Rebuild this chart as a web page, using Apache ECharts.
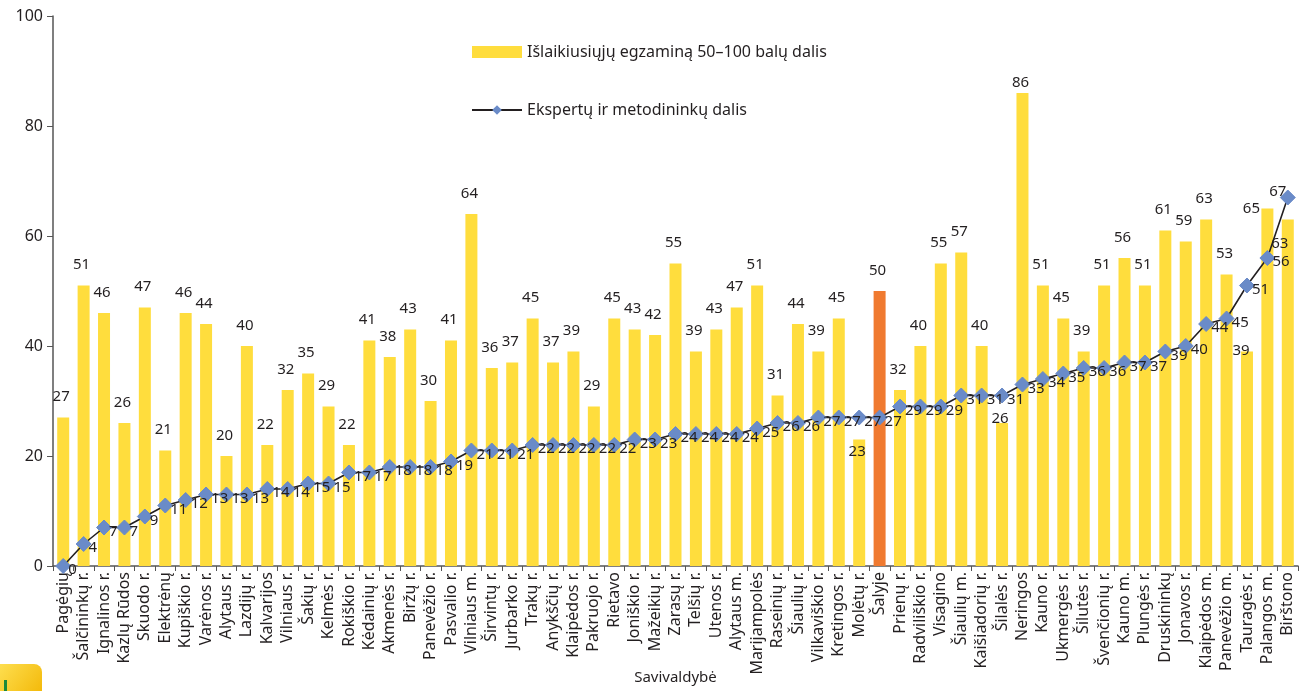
<!DOCTYPE html>
<html>
<head>
<meta charset="utf-8">
<style>
  html, body { margin: 0; padding: 0; background: #fff; }
  #chart { width: 1301px; height: 691px; }
</style>
<script src="https://cdn.jsdelivr.net/npm/echarts@6/dist/echarts.min.js"></script>
</head>
<body>
<div id="chart"></div>
<script>
// Savivaldybės (municipalities), ordered by the experts' share
const categories = [
  'Pagėgių', 'Šalčininkų r.', 'Ignalinos r.', 'Kazlų Rūdos', 'Skuodo r.', 'Elektrėnų',
  'Kupiškio r.', 'Varėnos r.', 'Alytaus r.', 'Lazdijų r.', 'Kalvarijos', 'Vilniaus r.',
  'Šakių r.', 'Kelmės r.', 'Rokiškio r.', 'Kėdainių r.', 'Akmenės r.', 'Biržų r.',
  'Panevėžio r.', 'Pasvalio r.', 'Vilniaus m.', 'Širvintų r.', 'Jurbarko r.', 'Trakų r.',
  'Anykščių r.', 'Klaipėdos r.', 'Pakruojo r.', 'Rietavo', 'Joniškio r.', 'Mažeikių r.',
  'Zarasų r.', 'Telšių r.', 'Utenos r.', 'Alytaus m.', 'Marijampolės', 'Raseinių r.',
  'Šiaulių r.', 'Vilkaviškio r.', 'Kretingos r.', 'Molėtų r.', 'Šalyje', 'Prienų r.',
  'Radviliškio r.', 'Visagino', 'Šiaulių m.', 'Kaišiadorių r.', 'Šilalės r.', 'Neringos',
  'Kauno r.', 'Ukmergės r.', 'Šilutės r.', 'Švenčionių r.', 'Kauno m.', 'Plungės r.',
  'Druskininkų', 'Jonavos r.', 'Klaipėdos m.', 'Panevėžio m.', 'Tauragės r.', 'Palangos m.',
  'Birštono'
];

// Išlaikiusiųjų egzaminą 50–100 balų dalis (%)
const passedShare = [
  27, 51, 46, 26, 47, 21, 46, 44, 20, 40, 22, 32,
  35, 29, 22, 41, 38, 43, 30, 41, 64, 36, 37, 45,
  37, 39, 29, 45, 43, 42, 55, 39, 43, 47, 51, 31,
  44, 39, 45, 23, 50, 32, 40, 55, 57, 40, 26, 86,
  51, 45, 39, 51, 56, 51, 61, 59, 63, 53, 39, 65,
  63
];

// Ekspertų ir metodininkų dalis (%)
const expertShare = [
  0, 4, 7, 7, 9, 11, 12, 13, 13, 13, 14, 14,
  15, 15, 17, 17, 18, 18, 18, 19, 21, 21, 21, 22,
  22, 22, 22, 22, 23, 23, 24, 24, 24, 24, 25, 26,
  26, 27, 27, 27, 27, 29, 29, 29, 31, 31, 31, 33,
  34, 35, 36, 36, 37, 37, 39, 40, 44, 45, 51, 56,
  67
];

// Y axis ticks
const yTicks = [0, 20, 40, 60, 80, 100];

const nationalLabel = 'Šalyje';
const seriesNames = ['Išlaikiusiųjų egzaminą 50–100 balų dalis', 'Ekspertų ir metodininkų dalis'];
const axisTitle = 'Savivaldybė';

const FONT = 'Noto Sans';
const TEXT = '#231f20';
const lastIdx = categories.length - 1;

// label nudges where columns sit close to the line or to each other
const barLabelNudge = {
  'Molėtų r.': [-2, 33],
  'Šilalės r.': [-2, 16],
  'Neringos': [-2, 10],
  'Tauragės r.': [-6, 20],
  'Palangos m.': [-16, 21],
  'Birštono': [-8, 45]
};

const barData = passedShare.map((v, i) => {
  const item = { value: v };
  if (categories[i] === nationalLabel) item.itemStyle = { color: '#F07A30' };
  if (barLabelNudge[categories[i]]) item.label = { offset: barLabelNudge[categories[i]] };
  return item;
});

const lineData = expertShare.map((v, i) => i === lastIdx
  ? { value: v, label: { position: 'top', distance: 0, offset: [-10, 10] } }
  : v);

const chart = echarts.init(document.getElementById('chart'), null, { renderer: 'canvas' });

chart.setOption({
  backgroundColor: '#ffffff',
  animation: false,
  textStyle: { fontFamily: FONT, color: TEXT },
  grid: { left: 53, right: 3, top: 16, bottom: 125, containLabel: false, outerBoundsMode: 'none' },
  legend: {
    orient: 'vertical',
    left: 466,
    top: 39,
    itemGap: 42,
    itemWidth: 50,
    itemHeight: 12,
    textStyle: { fontFamily: FONT, fontSize: 16, color: TEXT },
    data: [
      { name: seriesNames[0], icon: 'rect' },
      { name: seriesNames[1] }
    ]
  },
  xAxis: {
    type: 'category',
    data: categories,
    boundaryGap: true,
    name: axisTitle,
    nameLocation: 'middle',
    nameGap: 112,
    nameMoveOverlap: false,
    nameTextStyle: { fontFamily: FONT, fontSize: 15, color: TEXT, verticalAlign: 'middle' },
    axisLine: { show: true, lineStyle: { color: '#555', width: 1.5 } },
    axisTick: { show: true, alignWithLabel: false, length: 5, lineStyle: { color: '#555' } },
    axisLabel: {
      interval: 0,
      rotate: 90,
      margin: 6,
      fontFamily: FONT,
      fontSize: 16,
      color: TEXT
    },
    splitLine: { show: false }
  },
  yAxis: {
    type: 'value',
    min: yTicks[0],
    max: yTicks[yTicks.length - 1],
    interval: yTicks[1] - yTicks[0],
    axisLine: { show: true, lineStyle: { color: '#555', width: 1.5 } },
    axisTick: { show: true, length: 6, lineStyle: { color: '#555' } },
    axisLabel: { fontFamily: FONT, fontSize: 16, color: TEXT, margin: 10 },
    splitLine: { show: false }
  },
  series: [
    {
      name: seriesNames[0],
      type: 'bar',
      data: barData,
      barWidth: 12,
      itemStyle: { color: '#FFDD3D' },
      label: {
        show: true,
        position: 'top',
        distance: 13,
        offset: [-2, 0],
        fontFamily: FONT,
        fontSize: 15,
        color: TEXT
      },
      z: 2
    },
    {
      name: seriesNames[1],
      type: 'line',
      data: lineData,
      symbol: 'diamond',
      symbolSize: 15,
      lineStyle: { color: '#231f20', width: 1.6 },
      itemStyle: { color: '#6A8BC8', borderColor: '#6A8BC8' },
      label: {
        show: true,
        position: 'right',
        distance: 0,
        offset: [-3, 4],
        fontFamily: FONT,
        fontSize: 15,
        color: TEXT
      },
      z: 3
    }
  ],
  graphic: [
    {
      type: 'rect',
      left: -10,
      top: 664,
      shape: { width: 52, height: 40, r: 8 },
      style: {
        fill: new echarts.graphic.LinearGradient(0, 0, 1, 1, [
          { offset: 0, color: '#FFE45A' },
          { offset: 1, color: '#F2B400' }
        ])
      },
      silent: true
    },
    {
      type: 'rect',
      left: 4,
      top: 680,
      shape: { width: 3, height: 11 },
      style: { fill: '#1E8A3A' },
      silent: true
    }
  ]
});
</script>
</body>
</html>
